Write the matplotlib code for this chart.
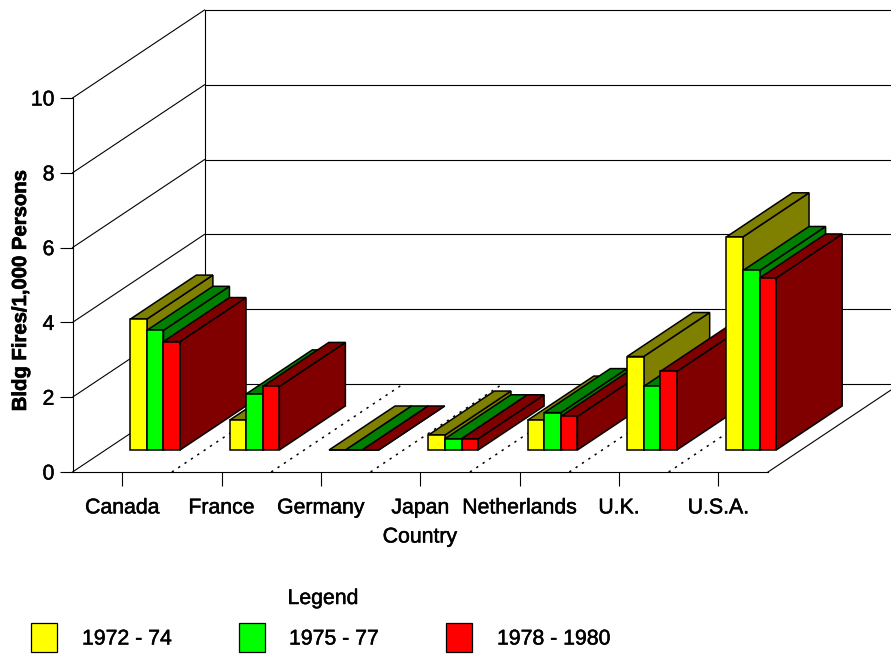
import matplotlib
matplotlib.use('Agg')
import matplotlib.pyplot as plt
import matplotlib.patheffects as pe
from matplotlib.patches import Polygon, Rectangle

plt.rcParams['font.family'] = ['Liberation Sans', 'DejaVu Sans']

countries = ['Canada', 'France', 'Germany', 'Japan', 'Netherlands', 'U.K.', 'U.S.A.']
periods = ['1972 - 74', '1975 - 77', '1978 - 1980']
fires_72 = [3.5, 0.8, 0.0, 0.4, 0.8, 2.5, 5.7]
fires_75 = [3.2, 1.5, 0.0, 0.3, 1.0, 1.7, 4.8]
fires_78 = [2.9, 1.7, 0.0, 0.3, 0.9, 2.1, 4.6]
y_ticks = [0, 2, 4, 6, 8, 10]

front_colors = ['#ffff00', '#00ff00', '#ff0000']
side_colors = ['#808000', '#008000', '#800000']

W, H = 891, 654
# front plane of the box, in pixels
LEFT, RIGHT, BOTTOM, TOP = 72.5, 768, 472, 98
# how far one full unit of depth moves a point, in data units
DX = 132 / ((RIGHT - LEFT) / len(countries))
DY = 88 / ((BOTTOM - TOP) / 10)
FS = 15.3
# slightly heavier strokes for the labels
HEAVY = [pe.withStroke(linewidth=0.35, foreground='black')]


def proj(x, y, d):
    return x + d * DX, y + d * DY


def line3d(ax, a, b, **kw):
    p, q = proj(*a), proj(*b)
    style = dict(color='black', lw=0.8, clip_on=False, zorder=1)
    style.update(kw)
    ax.plot([p[0], q[0]], [p[1], q[1]], **style)


def draw_box(ax):
    n = len(countries)
    for t in y_ticks:
        line3d(ax, (0, t, 0), (0, t, 1))
        line3d(ax, (0, t, 1), (n, t, 1))
    line3d(ax, (0, 0, 1), (0, 10, 1))
    line3d(ax, (n, 0, 0), (n, 0, 1))
    for k in range(1, n):
        line3d(ax, (k, 0, 0), (k, 0, 1), ls=(0, (1.5, 3.5)), lw=1.1)


def draw_bar(ax, x0, x1, h, front, side):
    d0, d1 = 0.25, 0.75
    faces = [
        ([(x1, 0, d0), (x1, 0, d1), (x1, h, d1), (x1, h, d0)], side),
        ([(x0, h, d0), (x1, h, d0), (x1, h, d1), (x0, h, d1)], side),
        ([(x0, 0, d0), (x1, 0, d0), (x1, h, d0), (x0, h, d0)], front),
    ]
    for pts, color in faces:
        ax.add_patch(Polygon([proj(*p) for p in pts], closed=True, fc=color,
                             ec='black', lw=1.1, clip_on=False, zorder=3,
                             joinstyle='miter'))


def draw_legend(fig):
    def fx(x):
        return x / W

    def fy(y):
        return 1 - y / H

    fig.text(fx(323), fy(598.5), 'Legend', fontsize=FS, ha='center', va='center',
             path_effects=HEAVY)
    boxes = [31, 239, 446]
    labels = [82, 289, 497]
    for i in range(3):
        fig.add_artist(Rectangle((fx(boxes[i]), fy(652)), 26 / W, 29 / H,
                                 transform=fig.transFigure, fc=front_colors[i],
                                 ec='black', lw=0.9))
        fig.text(fx(labels[i]), fy(639), periods[i], fontsize=FS,
                 ha='left', va='center', path_effects=HEAVY)


def main():
    fig = plt.figure(figsize=(W / 100, H / 100), dpi=100)
    ax = fig.add_axes([LEFT / W, 1 - BOTTOM / H, (RIGHT - LEFT) / W, (BOTTOM - TOP) / H])
    ax.patch.set_visible(False)
    ax.set_xlim(0, len(countries))
    ax.set_ylim(0, 10)
    for s in ['top', 'right']:
        ax.spines[s].set_visible(False)
    ax.spines['left'].set_linewidth(0.8)
    ax.spines['bottom'].set_linewidth(0.8)

    ax.set_xticks([k + 0.5 for k in range(len(countries))])
    ax.set_xticklabels(countries, fontsize=FS)
    ax.set_yticks(y_ticks)
    ax.tick_params(axis='x', length=10, width=0.8, pad=9)
    ax.tick_params(axis='y', length=9.5, width=0.8, pad=3.5, labelsize=FS)
    for lab in ax.get_xticklabels() + ax.get_yticklabels():
        lab.set_path_effects(HEAVY)

    draw_box(ax)

    series = [fires_72, fires_75, fires_78]
    for k in range(len(countries)):
        for j in range(3):
            x0 = k + 0.25 + j / 6
            draw_bar(ax, x0, x0 + 1 / 6, series[j][k], front_colors[j], side_colors[j])

    fig.text(420 / W, 1 - 537 / H, 'Country', fontsize=FS, ha='center', va='center',
             path_effects=HEAVY)
    fig.text(20.5 / W, 1 - 291 / H, 'Bldg Fires/1,000 Persons', fontsize=14.6,
             fontweight='bold', rotation=90, ha='center', va='center',
             path_effects=[pe.withStroke(linewidth=0.5, foreground='black')])
    draw_legend(fig)

    fig.savefig('out.png', dpi=100)


main()
